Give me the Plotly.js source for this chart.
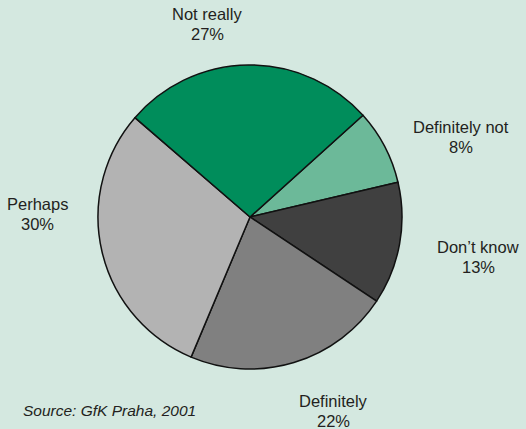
<!DOCTYPE html>
<html>
<head>
<meta charset="utf-8">
<script src="https://cdn.plot.ly/plotly-3.0.1.min.js"></script>
<style>html,body{margin:0;padding:0;background:#d4e8e0;}#chart{width:526px;height:429px;}</style>
</head>
<body>
<div id="chart"></div>
<script>
// Data (clockwise from the top-right boundary)
const categories = ["Definitely not", "Don’t know", "Definitely", "Perhaps", "Not really"];
const shares = [8, 13, 22, 30, 27];
const sliceColors = ["#6cb999", "#404040", "#808080", "#b3b3b3", "#008d5b"];
const sourceNote = "Source: GfK Praha, 2001";

// Label placement (pixel centres of the first label line)
const labelPx = [[461, 127], [478, 247], [333, 401], [38, 204], [207, 14]];
const lineGap = 20;

const W = 526, H = 429;
const fnt = {family: "Liberation Sans, Arial, sans-serif", size: 16.5, color: "#231f20"};
const annotations = [];
categories.forEach((c, i) => {
  annotations.push({
    xref: "paper", yref: "paper",
    x: labelPx[i][0] / W, y: 1 - labelPx[i][1] / H,
    xanchor: "center", yanchor: "middle",
    text: c, showarrow: false, font: fnt
  });
  annotations.push({
    xref: "paper", yref: "paper",
    x: labelPx[i][0] / W, y: 1 - (labelPx[i][1] + lineGap) / H,
    xanchor: "center", yanchor: "middle",
    text: shares[i] + "%", showarrow: false, font: fnt
  });
});
annotations.push({
  xref: "paper", yref: "paper", x: 21 / W, y: 1 - 410 / H,
  xanchor: "left", yanchor: "middle", showarrow: false,
  text: "<i>" + sourceNote + "</i>",
  font: {family: "Liberation Sans, Arial, sans-serif", size: 15.5, color: "#231f20"}
});

const cx = 250, cy = 217, r = 152;
const trace = {
  type: "pie",
  labels: categories,
  values: shares,
  sort: false,
  direction: "clockwise",
  rotation: 48,
  textinfo: "none",
  hoverinfo: "label+percent",
  marker: {colors: sliceColors, line: {color: "#111111", width: 1.5}},
  domain: {x: [(cx - r) / W, (cx + r) / W], y: [1 - (cy + r) / H, 1 - (cy - r) / H]},
  showlegend: false
};

Plotly.newPlot("chart", [trace], {
  width: W, height: H,
  margin: {l: 0, r: 0, t: 0, b: 0},
  paper_bgcolor: "#d4e8e0",
  plot_bgcolor: "#d4e8e0",
  showlegend: false,
  annotations: annotations
}, {displayModeBar: false, staticPlot: true});
</script>
</body>
</html>
